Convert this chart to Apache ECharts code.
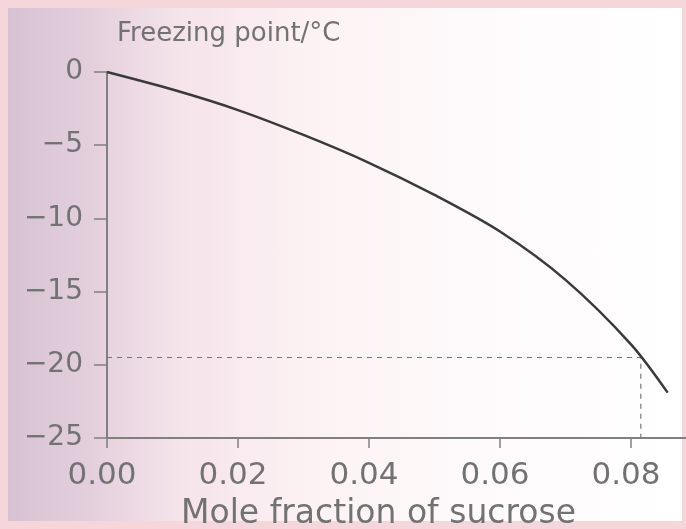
<!DOCTYPE html>
<html>
<head>
<meta charset="utf-8">
<script src="https://cdn.jsdelivr.net/npm/echarts@6/dist/echarts.min.js"></script>
<style>
  html, body { margin: 0; padding: 0; background: #f4d6db; }
  #paper {
    position: absolute; left: 8px; top: 8px; width: 674px; height: 513px;
    background: linear-gradient(to right, #d6c2d2 0%, #e3cfdc 12%, #f5e3ea 25%, #fcf2f4 45%, #fefafb 70%, #ffffff 100%);
  }
  #line { position: absolute; left: 0; top: 0; width: 686px; height: 529px; }
</style>
</head>
<body>
<div id="paper"></div>
<div id="line"></div>
<script>
// mole fraction of sucrose vs freezing point
var moleFraction = [0, 0.01, 0.02, 0.03, 0.04, 0.05, 0.06, 0.07, 0.08, 0.0856]
var freezingPoint = [0, -1.2, -2.6, -4.3, -6.2, -8.4, -10.9, -14.2, -18.6, -21.9]

// dashed guide: from the y axis to the curve, then down to the x axis
var guideX = [0, 0.0815, 0.0815]
var guideY = [-19.5, -19.5, -25]

var xTicks = [0, 0.02, 0.04, 0.06, 0.08]
var yTicks = [0, -5, -10, -15, -20, -25]

var curve = moleFraction.map(function (x, i) { return [x, freezingPoint[i]] })
var guide = guideX.map(function (x, i) { return [x, guideY[i]] })

var chart = echarts.init(document.getElementById('line'))
var axisGrey = '#808080'
var textGrey = '#727272'

var option = {
  animation: false,
  grid: { left: 107, right: 0, top: 72, bottom: 91, containLabel: false, outerBoundsMode: 'none' },
  xAxis: {
    type: 'value',
    min: 0,
    max: 0.0884,
    interval: 0.02,
    name: 'Mole fraction of sucrose',
    nameLocation: 'middle',
    nameGap: 60,
    nameTextStyle: { color: textGrey, fontSize: 33, fontFamily: 'DejaVu Sans', padding: [0, 36, 0, 0] },
    axisLine: { onZero: false, lineStyle: { color: axisGrey, width: 2 } },
    axisTick: { show: true, length: 10, lineStyle: { color: axisGrey, width: 1.5 } },
    axisLabel: {
      margin: 22,
      color: textGrey,
      fontSize: 31,
      fontFamily: 'DejaVu Sans',
      padding: [0, 10, 0, 0],
      showMaxLabel: false,
      formatter: function (v) { return xTicks.indexOf(Math.round(v * 100) / 100) >= 0 ? v.toFixed(2) : '' }
    },
    splitLine: { show: false }
  },
  yAxis: {
    type: 'value',
    min: -25,
    max: 0,
    interval: 5,
    name: 'Freezing point/°C',
    nameLocation: 'end',
    nameGap: 25,
    nameTextStyle: { color: textGrey, fontSize: 26, fontFamily: 'DejaVu Sans', align: 'left', padding: [0, 0, 0, 10] },
    axisLine: { show: true, lineStyle: { color: axisGrey, width: 2 } },
    axisTick: { show: true, length: 13, lineStyle: { color: axisGrey, width: 1.5 } },
    axisLabel: {
      margin: 24,
      color: textGrey,
      fontSize: 28,
      fontFamily: 'DejaVu Sans',
      formatter: function (v) { return yTicks.indexOf(v) >= 0 ? String(v).replace('-', '\u2212') : '' }
    },
    splitLine: { show: false }
  },
  series: [
    {
      name: 'guide',
      type: 'line',
      data: guide,
      symbol: 'none',
      lineStyle: { color: '#777', width: 1.2, type: [5, 5] },
      z: 1
    },
    {
      name: 'freezing point',
      type: 'line',
      data: curve,
      smooth: 0.3,
      symbol: 'none',
      lineStyle: { color: '#3a3a3a', width: 2.5 },
      z: 2
    }
  ]
}
chart.setOption(option)
</script>
</body>
</html>
